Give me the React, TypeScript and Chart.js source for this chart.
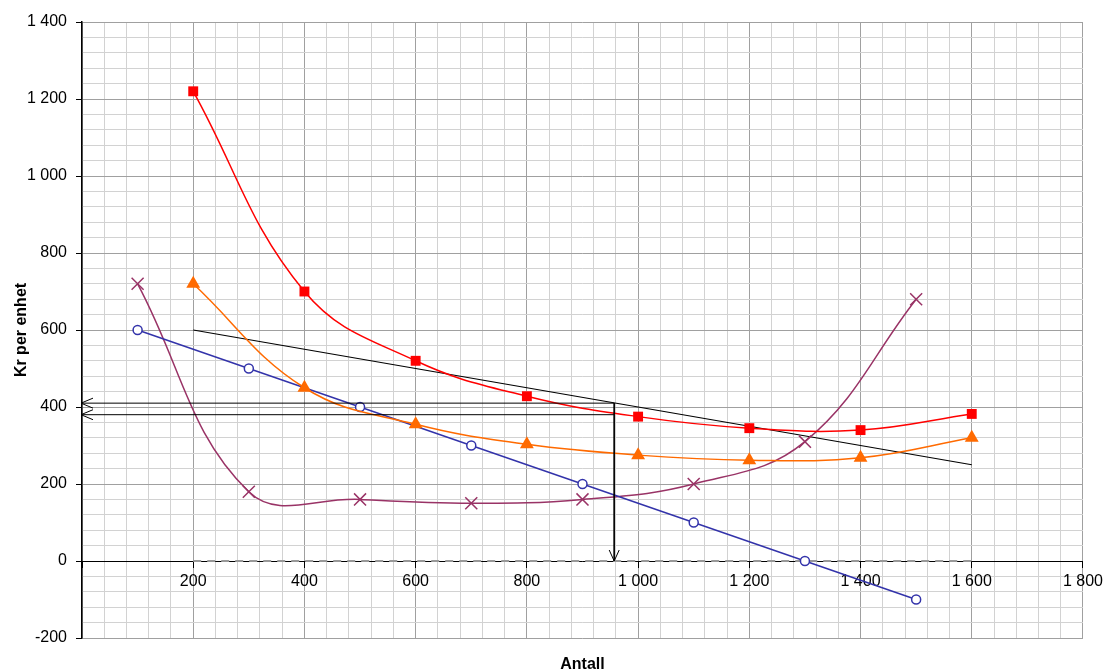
import { useEffect, useRef } from 'react';
import { Chart, registerables } from 'chart.js';

Chart.register(...registerables);

// ---- data ----
const costX = [200, 400, 600, 800, 1000, 1200, 1400, 1600];
const redValues = [1220, 700, 520, 428, 375, 345, 340, 382];
const orangeValues = [720, 450, 355, 303, 275, 262, 268, 320];
const oddX = [100, 300, 500, 700, 900, 1100, 1300, 1500];
const blueValues = [600, 500, 400, 300, 200, 100, 0, -100];
const purpleValues = [720, 180, 160, 150, 160, 200, 310, 680];
const blackX = [200, 1600];
const blackValues = [600, 250];
const zeroX = [200, 1600];
const zeroValues = [0, 0];
const arrowX = 957;
const arrowUpper = 410;
const arrowLower = 380;

const yTickValues = [-200, 0, 200, 400, 600, 800, 1000, 1200, 1400];
const yTickLabels = ['-200', '0', '200', '400', '600', '800', '1 000', '1 200', '1 400'];
const xTickValues = [200, 400, 600, 800, 1000, 1200, 1400, 1600, 1800];
const xTickLabels = ['200', '400', '600', '800', '1 000', '1 200', '1 400', '1 600', '1 800'];

const FONT = "Arial, 'Liberation Sans', sans-serif";
const MAJOR = '#a0a0a0';
const MINOR = '#d2d2d2';

const pts = (xs: number[], ys: number[]) => xs.map((x, i) => ({ x, y: ys[i] }));

const arrowPlugin = {
  id: 'arrowHeads',
  afterDatasetsDraw(chart: any) {
    const { ctx, scales } = chart;
    const x = scales.x;
    const y = scales.y;
    ctx.save();
    ctx.strokeStyle = '#000';
    ctx.lineWidth = 1;
    for (const v of [arrowUpper, arrowLower]) {
      const px = x.getPixelForValue(0) - 1;
      const py = y.getPixelForValue(v);
      ctx.beginPath();
      ctx.moveTo(px + 12, py - 5);
      ctx.lineTo(px, py);
      ctx.lineTo(px + 12, py + 5);
      ctx.stroke();
    }
    const ax = x.getPixelForValue(arrowX);
    const ay = y.getPixelForValue(0);
    ctx.beginPath();
    ctx.moveTo(ax - 5, ay - 11);
    ctx.lineTo(ax, ay);
    ctx.lineTo(ax + 5, ay - 11);
    ctx.stroke();
    ctx.restore();
  },
};

export default function App() {
  const ref = useRef<HTMLCanvasElement>(null);
  useEffect(() => {
    document.body.style.margin = '0';
    if (!ref.current) return;
    const isMajor = (v: number) => Math.abs(v % 200) < 1e-6;
    const chart = new Chart(ref.current, {
      type: 'scatter',
      data: {
        datasets: [
          {
            label: 'Arrow upper',
            data: [{ x: 0, y: arrowUpper }, { x: arrowX, y: arrowUpper }, { x: arrowX, y: 0 }],
            showLine: true, borderColor: '#000', borderWidth: 1, pointRadius: 0, tension: 0,
          },
          {
            label: 'Arrow lower',
            data: [{ x: 0, y: arrowLower }, { x: arrowX, y: arrowLower }],
            showLine: true, borderColor: '#000', borderWidth: 1, pointRadius: 0, tension: 0,
          },
          {
            label: 'Rød',
            data: pts(costX, redValues),
            showLine: true, borderColor: '#ff0000', backgroundColor: '#ff0000', borderWidth: 1.5,
            pointStyle: 'rect', pointRadius: 7, pointBorderWidth: 0, tension: 0.4,
          },
          {
            label: 'Oransje',
            data: pts(costX, orangeValues),
            showLine: true, borderColor: '#ff6a00', backgroundColor: '#ff6a00', borderWidth: 1.5,
            pointStyle: 'triangle', pointRadius: 8, pointBorderWidth: 0, tension: 0.4,
          },
          {
            label: 'Blå',
            data: pts(oddX, blueValues),
            showLine: true, borderColor: '#3333aa', backgroundColor: '#ffffff', borderWidth: 1.5,
            pointStyle: 'circle', pointRadius: 4.5, pointBorderWidth: 1.5, tension: 0,
          },
          {
            label: 'Lilla',
            data: pts(oddX, purpleValues),
            showLine: true, borderColor: '#993366', backgroundColor: '#993366', borderWidth: 1.5,
            pointStyle: 'crossRot', pointRadius: 8.5, pointBorderWidth: 1.5, tension: 0.4,
          },
          {
            label: 'Svart',
            data: pts(blackX, blackValues),
            showLine: true, borderColor: '#000', borderWidth: 1.2, pointRadius: 0, tension: 0,
          },
          {
            label: 'Null',
            data: pts(zeroX, zeroValues),
            showLine: true, borderColor: '#999', borderWidth: 2, borderDash: [8, 6], pointRadius: 0,
          },
        ],
      },
      options: {
        animation: false,
        responsive: false,
        layout: { padding: { left: 0, top: 22, right: 23, bottom: 0 } },
        plugins: { legend: { display: false }, tooltip: { enabled: false } },
        scales: {
          x: {
            type: 'linear',
            position: 'bottom',
            min: 0,
            max: 1800,
            afterFit: (s: any) => { s.height = 34; },
            ticks: { stepSize: 40, display: false, autoSkip: false },
            grid: {
              drawTicks: false,
              color: (c: any) => (isMajor(c.tick.value) ? MAJOR : MINOR),
            },
            border: { display: false },
            title: {
              display: true,
              text: 'Antall',
              color: '#000',
              font: { family: FONT, size: 16, weight: 'bold' },
              padding: { top: 0, bottom: -2 },
            },
          },
          x0: {
            type: 'linear',
            position: { y: 0 },
            min: 0,
            max: 1800,
            z: 1,
            ticks: {
              stepSize: 200,
              autoSkip: false,
              maxRotation: 0,
              padding: 5,
              color: '#000',
              font: { family: FONT, size: 16 },
              callback: (v: any) => {
                const i = xTickValues.indexOf(Number(v));
                return i >= 0 ? xTickLabels[i] : '';
              },
            },
            grid: { display: true, drawOnChartArea: false, drawTicks: true, tickLength: 6, color: '#000' },
            border: { display: true, color: '#000', width: 1 },
          },
          y: {
            type: 'linear',
            min: -200,
            max: 1400,
            afterFit: (s: any) => { s.width = 82; },
            ticks: {
              stepSize: 40,
              autoSkip: false,
              padding: 9,
              color: '#000',
              font: { family: FONT, size: 16 },
              callback: (v: any) => {
                const i = yTickValues.indexOf(Number(v));
                return i >= 0 ? yTickLabels[i] : '';
              },
            },
            grid: {
              tickLength: 6,
              color: (c: any) => (isMajor(c.tick.value) ? MAJOR : MINOR),
              tickColor: (c: any) => (isMajor(c.tick.value) ? '#000' : 'rgba(0,0,0,0)'),
            },
            border: { display: true, color: '#000', width: 1.5 },
            title: {
              display: true,
              text: 'Kr per enhet',
              color: '#000',
              font: { family: FONT, size: 16, weight: 'bold' },
              padding: { top: 12, bottom: 0 },
            },
          },
        },
      } as any,
      plugins: [arrowPlugin],
    });
    return () => chart.destroy();
  }, []);
  return (
    <div style={{ width: 1108, height: 672 }}>
      <canvas ref={ref} width={1108} height={672} />
    </div>
  );
}
